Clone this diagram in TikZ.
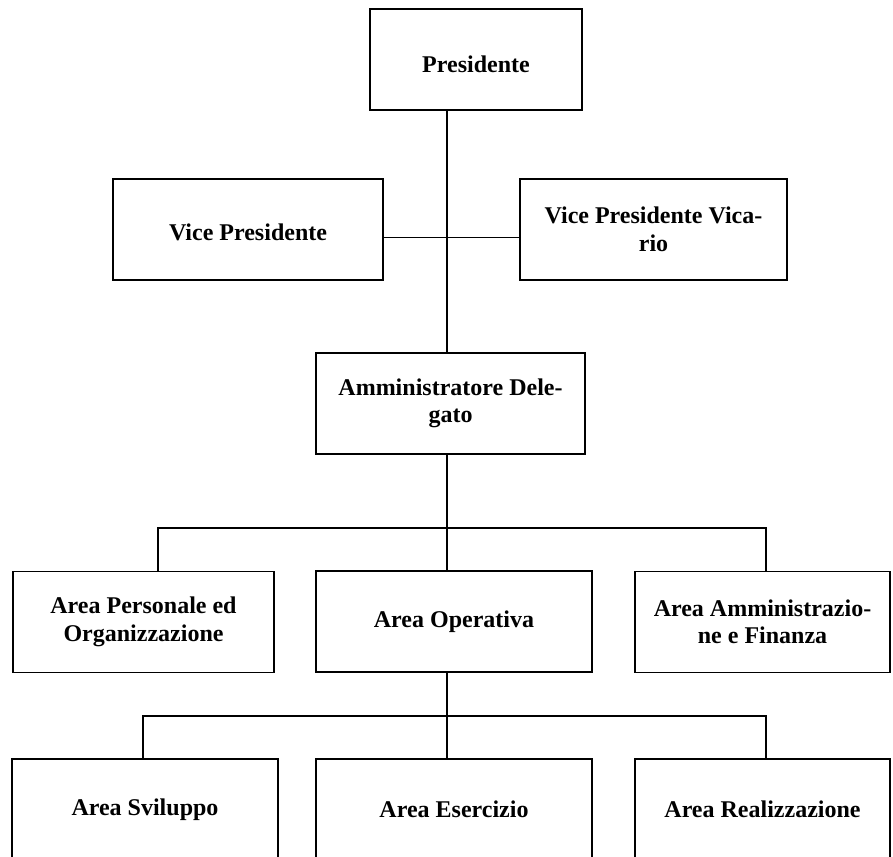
\documentclass[tikz,border=0pt]{standalone}
\usepackage{fontspec}
\setmainfont{Liberation Serif}
\usepackage{tikz}
\tikzstyle{rec} = [rectangle,draw,line width=1.6pt,inner sep=0pt,align=center,
  font=\fontsize{24}{27.5}\selectfont\bfseries]

\begin{document}
\begin{tikzpicture}
		[x=1pt,y=-1pt,
		block/.style={rec,minimum height=101pt},
		link/.style={line width=1.6pt}
		]
		\useasboundingbox (0,0) rectangle (893,856);
		\clip (0,0) rectangle (893,856);
		\node[block,minimum width=212pt,text height=27pt](pres) at (476,59.5) {Presidente};
		\node[block,minimum width=270pt,text height=23pt](vp) at (248,229.5) {Vice Presidente};
		\node[block,minimum width=267pt](vpv) at (653.5,229.5) {Vice Presidente Vica-\\rio};
		\node[block,minimum width=269pt](ad) at (450.5,403.5) {Amministratore Dele-\\gato};
		\node[block,minimum width=261pt](apo) at (143.5,622) {Area Personale ed\\Organizzazione};
		\node[block,minimum width=276pt](aop) at (454,621.5) {Area Operativa};
		\node[block,minimum width=255pt](aaf) at (762.5,622) {Area Amministrazio-\\ne e Finanza};
		\node[block,minimum width=266pt](svi) at (145,809.5) {Area Sviluppo};
		\node[block,minimum width=276pt](ese) at (454,809.5) {Area Esercizio};
		\node[block,minimum width=255pt](rea) at (762.5,809.5) {Area Realizzazione};
		\coordinate (spine) at (447,0);
		\coordinate (bus1) at (447,528);
		\coordinate (bus2) at (447,716);
		% vertici
		\draw[link] (pres.south -| spine) -- (ad.north -| spine);
		\draw[link] ([yshift=-8pt]vp.east) -- ([yshift=-8pt]vpv.west);
		% aree
		\draw[link] (ad.south -| spine) -- (aop.north -| spine);
		\draw[link] ([xshift=14.5pt]apo.north) |- (bus1) -| ([xshift=3.5pt]aaf.north);
		% sotto area operativa
		\draw[link] (aop.south -| spine) -- (ese.north -| spine);
		\draw[link] ([xshift=-2pt]svi.north) |- (bus2) -| ([xshift=3.5pt]rea.north);
		\end{tikzpicture}
\end{document}
